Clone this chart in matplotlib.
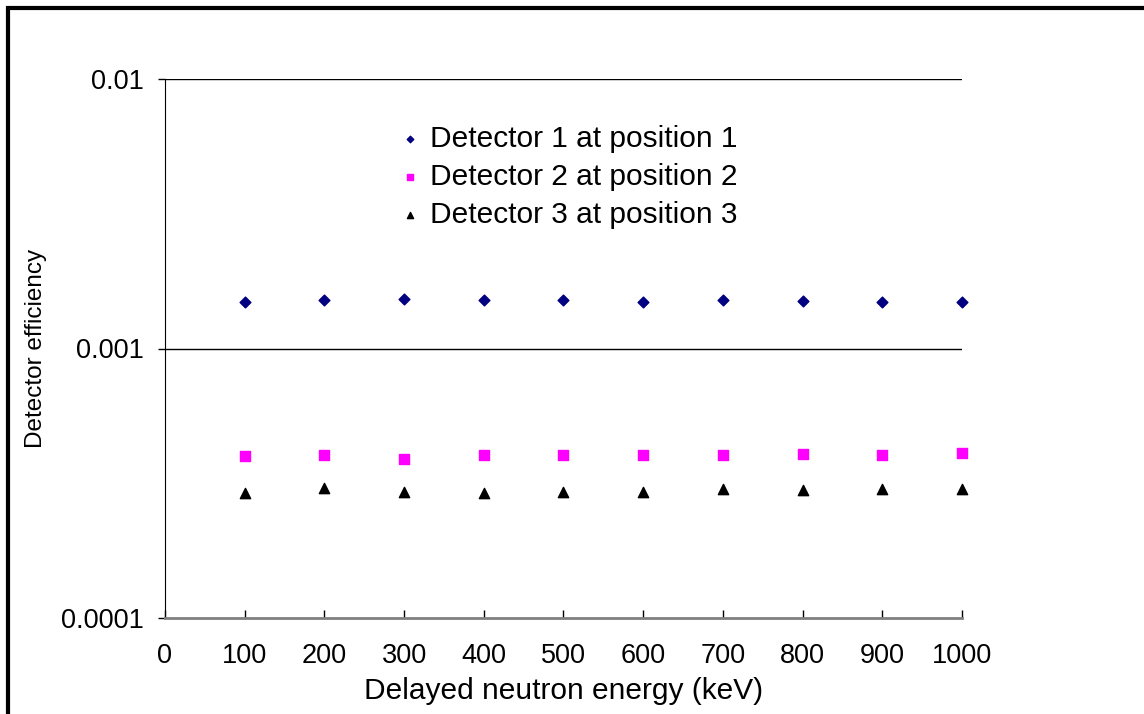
import matplotlib.pyplot as plt
from matplotlib.patches import Rectangle
import numpy as np

plt.rcParams['font.family'] = ['Liberation Sans', 'DejaVu Sans']

energy = [100, 200, 300, 400, 500, 600, 700, 800, 900, 1000]
det1 = [1.494e-3, 1.51e-3, 1.52e-3, 1.51e-3, 1.51e-3, 1.494e-3, 1.51e-3, 1.50e-3, 1.494e-3, 1.488e-3]
det2 = [3.99e-4, 4.03e-4, 3.89e-4, 4.03e-4, 4.01e-4, 4.01e-4, 4.03e-4, 4.06e-4, 4.03e-4, 4.08e-4]
det3 = [2.91e-4, 3.03e-4, 2.94e-4, 2.91e-4, 2.93e-4, 2.94e-4, 3.01e-4, 2.99e-4, 3.01e-4, 3.00e-4]
labels = ['Detector 1 at position 1', 'Detector 2 at position 2', 'Detector 3 at position 3']

W, H = 1144, 714
fig = plt.figure(figsize=(W / 100, H / 100), dpi=100)
ax = fig.add_axes([165 / W, 1 - 618 / H, (962 - 165) / W, (618 - 79) / H])

# outer chart border (cut off on the right and bottom)
fig.patches.append(Rectangle((8 / W, -0.05), 1.2, 1 - 8 / H + 0.05, transform=fig.transFigure,
                             fill=False, edgecolor='black', linewidth=3))

ax.scatter(energy, det1, marker='D', s=30, color='#000080', label=labels[0], zorder=3, clip_on=False)
ax.scatter(energy, det2, marker='s', s=55, color='#ff00ff', label=labels[1], zorder=3, clip_on=False)
ax.scatter(energy, det3, marker='^', s=55, color='black', label=labels[2], zorder=3, clip_on=False)

ax.set_yscale('log')
ax.set_ylim(1e-4, 1e-2)
ax.set_xlim(0, 1000)
ax.set_xticks(np.arange(0, 1001, 100))
ax.set_yticks([1e-4, 1e-3, 1e-2])
ax.set_yticklabels(['0.0001', '0.001', '0.01'])
ax.yaxis.set_minor_locator(plt.NullLocator())
ax.tick_params(axis='y', direction='out', length=5, width=1, labelsize=19.5, pad=10)
ax.tick_params(axis='x', direction='in', length=6, width=1, labelsize=19.5, pad=18)

for y in [1e-3, 1e-2]:
    ax.axhline(y, color='black', linewidth=1, zorder=1)

ax.spines['top'].set_visible(False)
ax.spines['right'].set_visible(False)
ax.spines['left'].set_color('black')
ax.spines['bottom'].set_color('#808080')
ax.spines['bottom'].set_linewidth(2)

ax.set_xlabel('Delayed neutron energy (keV)', fontsize=21.5, labelpad=6)
ax.set_ylabel('Detector efficiency', fontsize=17.5)
ax.yaxis.set_label_coords(-0.148, 0.5)

ax.legend(loc='upper left', bbox_to_anchor=((398 - 165) / 797, 1 - (125 - 79) / 539),
          frameon=False, fontsize=21.5, markerscale=0.6, handlelength=0.8,
          handletextpad=0.27, labelspacing=0.33, borderaxespad=0, borderpad=0)

fig.savefig('out.png', dpi=100)
